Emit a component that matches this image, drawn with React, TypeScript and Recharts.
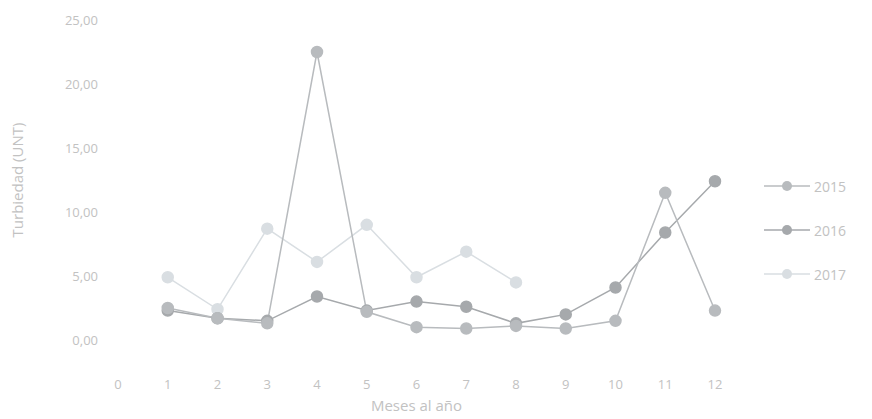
import React from 'react';
import { LineChart, Line, XAxis, YAxis, Legend, Label } from 'recharts';

const months = [1, 2, 3, 4, 5, 6, 7, 8, 9, 10, 11, 12];
const s2015 = [2.5, 1.7, 1.3, 22.5, 2.2, 1.0, 0.9, 1.1, 0.9, 1.5, 11.5, 2.3];
const s2016 = [2.3, 1.7, 1.5, 3.4, 2.3, 3.0, 2.6, 1.3, 2.0, 4.1, 8.4, 12.4];
const s2017: (number | null)[] = [4.9, 2.4, 8.7, 6.1, 9.0, 4.9, 6.9, 4.5, null, null, null, null];
const xTicks = [0, 1, 2, 3, 4, 5, 6, 7, 8, 9, 10, 11, 12];
const yTicks = [0, 5, 10, 15, 20, 25];

const data = months.map((m, i) => ({ mes: m, a2015: s2015[i], a2016: s2016[i], a2017: s2017[i] }));

const C2015 = '#b8bbbe';
const C2016 = '#a6a9ac';
const C2017 = '#d9dee2';
const TXT = '#c2c2c2';
const FONT = 'Open Sans, sans-serif';

const legendItems = [
  { name: '2015', color: C2015 },
  { name: '2016', color: C2016 },
  { name: '2017', color: C2017 },
];

const LegendContent = () => (
  <div>
    {legendItems.map((it) => (
      <div key={it.name} style={{ height: 44, display: 'flex', alignItems: 'center' }}>
        <svg width={50} height={14}>
          <line x1={2} y1={7} x2={48} y2={7} stroke={it.color} strokeWidth={1.5} />
          <circle cx={25} cy={7} r={5} fill={it.color} />
        </svg>
        <span style={{ fontFamily: FONT, fontSize: 14, color: TXT, marginLeft: 2 }}>{it.name}</span>
      </div>
    ))}
  </div>
);

export default function App() {
  return (
    <div style={{ position: 'fixed', left: 0, top: 0, background: '#fff' }}>
      <LineChart width={872} height={419} data={data} margin={{ top: 20, right: 47, left: 58, bottom: 0 }}>
        <XAxis
          dataKey="mes"
          type="number"
          domain={[0, 12]}
          ticks={xTicks}
          axisLine={false}
          tickLine={false}
          tickMargin={34}
          height={79}
          tick={{ fill: TXT, fontSize: 13, fontFamily: FONT }}
        >
          <Label value="Meses al año" position="insideBottom" offset={8} fill={TXT} fontSize={15} fontFamily={FONT} />
        </XAxis>
        <YAxis
          domain={[0, 25]}
          ticks={yTicks}
          axisLine={false}
          tickLine={false}
          width={60}
          tickMargin={14}
          tickFormatter={(v: number) => v.toFixed(2).replace('.', ',')}
          tick={{ fill: TXT, fontSize: 13, fontFamily: FONT }}
        >
          <Label value="Turbiedad (UNT)" angle={-90} position="insideLeft" offset={-40} style={{ textAnchor: 'middle' }} fill={TXT} fontSize={15} fontFamily={FONT} />
        </YAxis>
        <Legend
          layout="vertical"
          align="right"
          verticalAlign="middle"
          content={LegendContent}
          wrapperStyle={{ left: 762, top: 164, width: 110 }}
        />
        <Line dataKey="a2017" stroke={C2017} strokeWidth={1.5} dot={{ r: 5.5, fill: C2017, stroke: C2017 }} isAnimationActive={false} connectNulls={false} />
        <Line dataKey="a2016" stroke={C2016} strokeWidth={1.5} dot={{ r: 5.5, fill: C2016, stroke: C2016 }} isAnimationActive={false} />
        <Line dataKey="a2015" stroke={C2015} strokeWidth={1.5} dot={{ r: 5.5, fill: C2015, stroke: C2015 }} isAnimationActive={false} />
      </LineChart>
    </div>
  );
}
